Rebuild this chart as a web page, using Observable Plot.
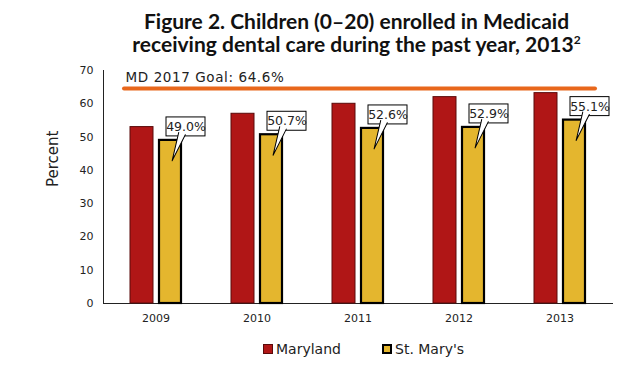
<!DOCTYPE html>
<html><head><meta charset="utf-8">
<script src="https://cdn.jsdelivr.net/npm/d3@7"></script>
<script src="https://cdn.jsdelivr.net/npm/@observablehq/plot@0.6"></script>
<style>
body{margin:0;background:#fff;font-family:"DejaVu Sans",sans-serif;}
#wrap{position:relative;width:629px;height:371px;overflow:hidden;}
#title{position:absolute;left:84px;top:9px;width:545px;text-align:center;font-family:Lato,"DejaVu Sans",sans-serif;font-weight:bold;font-size:21px;line-height:23px;color:#111;white-space:nowrap;}
#title sup{font-size:12px;vertical-align:8px;line-height:0;}
#chart{position:absolute;left:0;top:60px;}
#legend{position:absolute;top:340px;left:0;width:629px;height:20px;font-size:14px;color:#222;}
.li{position:absolute;top:1px;display:flex;align-items:center;}
.sw{width:10px;height:10px;margin-right:3px;box-sizing:border-box;}
</style></head>
<body><div id="wrap">
<div id="title">Figure 2. Children (0–20) enrolled in Medicaid<br>receiving dental care during the past year, 2013<sup>2</sup></div>
<div id="chart"></div>
<div id="legend"></div>
</div>
<script>
const years = ["2009","2010","2011","2012","2013"];
const maryland = [53, 57, 60, 62, 63.2];
const stMarys = [49.0, 50.7, 52.6, 52.9, 55.1];
const yTicks = [0,10,20,30,40,50,60,70];
const goal = 64.6;
const goalLabel = "MD 2017 Goal: 64.6%";
const seriesNames = ["Maryland","St. Mary's"];
const colors = ["#B01616","#E4B62E"];

const md = years.map((y,i)=>({year:y, value:maryland[i]}));
const sm = years.map((y,i)=>({year:y, value:stMarys[i], label:stMarys[i].toFixed(1)+"%"}));

const wedge = {draw(ctx, l, r){ ctx.moveTo(-r,3); ctx.lineTo(0,-l); ctx.lineTo(r,3); }};

const plot = Plot.plot({
  width:629, height:280,
  marginLeft:103, marginRight:17, marginTop:10, marginBottom:37,
  style:{fontFamily:"DejaVu Sans, sans-serif", fontSize:"11px", color:"#222", background:"transparent"},
  x:{domain:years, padding:0, label:null, tickSize:0, tickPadding:11, line:true},
  y:{domain:[0,70], ticks:yTicks, tickSize:0, tickPadding:10, label:null, line:true},
  marks:[
    Plot.barY(md, {x:"year", y:"value", fill:colors[0], stroke:"#5a0a0a", strokeWidth:1, insetLeft:25, insetRight:53}),
    Plot.barY(sm, {x:"year", y:"value", fill:colors[1], stroke:"#000", strokeWidth:2.2, insetLeft:54, insetRight:25}),
    Plot.ruleY([goal], {stroke:"#E8671B", strokeWidth:4, insetLeft:21, insetRight:17, strokeLinecap:"round"}),
    Plot.text([goalLabel], {frameAnchor:"left", y:[goal], dx:22, dy:-11, textAnchor:"start", fontSize:13.5, fill:"#222", style:"letter-spacing:0.5px"}),
    Plot.barY(sm, {x:"year", y1:d=>d.value+1.2, y2:d=>d.value+6.9, fill:"#fff", stroke:"#000", strokeWidth:1, insetLeft:61, insetRight:1}),
    Plot.vector(sm, {x:"year", y:d=>d.value+1.2, anchor:"start", length:26, rotate:200, r:3.5, shape:wedge, fill:"#fff", stroke:"#000", strokeWidth:1, dx:25}),
    Plot.text(sm, {x:"year", y:d=>d.value+4.05, text:"label", dx:30, fontSize:12.5, fill:"#222"}),
    Plot.text(["Percent"], {frameAnchor:"left", dx:-50, rotate:-90, fontSize:15, fill:"#222"})
  ]
});
plot.querySelectorAll("text").forEach(t=>{ if(t.textContent===goalLabel) t.setAttribute("letter-spacing","0.6"); });
document.getElementById("chart").appendChild(plot);

const leg = document.getElementById("legend");
const pos = [263, 382];
seriesNames.forEach((n,i)=>{
  const d = document.createElement("div");
  d.className="li"; d.style.left = pos[i]+"px";
  const s = document.createElement("div");
  s.className="sw"; s.style.background = colors[i];
  s.style.border = i===0 ? "1px solid #5a0a0a" : "2px solid #000";
  d.appendChild(s);
  const t = document.createElement("span"); t.textContent = n; d.appendChild(t);
  leg.appendChild(d);
});
</script></body></html>
